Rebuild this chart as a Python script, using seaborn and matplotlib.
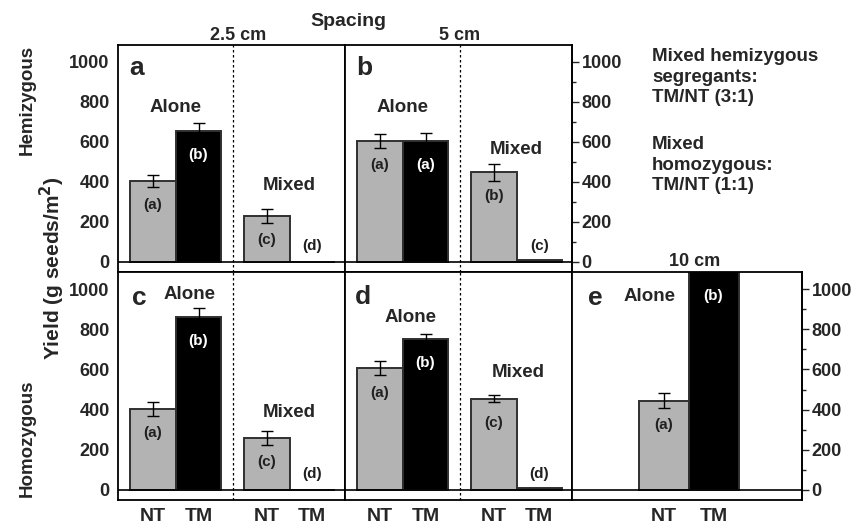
import pandas as pd
import matplotlib.pyplot as plt
from matplotlib.ticker import MultipleLocator
import seaborn as sb

# yields (g seeds/m2), order: NT alone, TM alone, NT mixed, TM mixed
hemi_25 = [405, 655, 230, 0]
hemi_25_err = [30, 40, 33, 0]
hemi_25_lab = ['(a)', '(b)', '(c)', '(d)']

hemi_5 = [605, 605, 448, 8]
hemi_5_err = [35, 40, 42, 0]
hemi_5_lab = ['(a)', '(a)', '(b)', '(c)']

homo_25 = [405, 860, 258, 0]
homo_25_err = [35, 45, 35, 0]
homo_25_lab = ['(a)', '(b)', '(c)', '(d)']

homo_5 = [605, 750, 455, 10]
homo_5_err = [35, 25, 17, 0]
homo_5_lab = ['(a)', '(b)', '(c)', '(d)']

# 10 cm: only grown alone
homo_10 = [445, 1100]
homo_10_err = [37, 0]
homo_10_lab = ['(a)', '(b)']

genotypes = ['NT', 'TM', 'NT', 'TM']
positions = [0, 1, 2.5, 3.5]

sb.set_style('white')
plt.rcParams['font.family'] = ['Liberation Sans', 'DejaVu Sans']
plt.rcParams['font.weight'] = 'bold'
plt.rcParams['axes.linewidth'] = 1.3

colors = {'NT': '#b3b3b3', 'TM': 'black'}
FS = 13.5

fig = plt.figure(figsize=(8.55, 5.31), dpi=100)


def rect(l, t, r, b):
    return [l / 855, 1 - b / 531, (r - l) / 855, (b - t) / 531]


def panel(box, vals, errs, labs, pos, gen, xlim, dashed=True):
    ax = fig.add_axes(box)
    df = pd.DataFrame({'pos': pos, 'Yield': vals, 'Genotype': gen})
    sb.barplot(data=df, x='pos', y='Yield', hue='Genotype', palette=colors,
               native_scale=True, dodge=False, width=1.0, errorbar=None,
               edgecolor='#303030', linewidth=1.4, legend=False, ax=ax)
    keep = [i for i, e in enumerate(errs) if e > 0]
    ax.errorbar([pos[i] for i in keep], [vals[i] for i in keep],
                yerr=[errs[i] for i in keep], fmt='none', ecolor='black',
                elinewidth=1, capsize=4, capthick=1)
    ax.axhline(0, color='black', lw=1.2)
    if dashed:
        ax.axvline(1.75, color='black', lw=0.9, ls=(0, (2, 2)))
    for x, v, l, g in zip(pos, vals, labs, gen):
        yl = min(v, 1085) - 120 if v > 150 else 80
        c = 'white' if (g == 'TM' and v > 150) else '#202020'
        ax.text(x, yl, l, ha='center', va='center', fontsize=11,
                color=c, fontweight='bold')
    ax.set_xlim(*xlim)
    ax.set_ylim(-50, 1085)
    ax.set_xticks(pos)
    ax.set_xticklabels(gen, fontsize=14, fontweight='bold')
    ax.tick_params(axis='x', length=0, pad=6)
    ax.yaxis.set_major_locator(MultipleLocator(200))
    ax.yaxis.set_minor_locator(MultipleLocator(100))
    ax.set_xlabel('')
    ax.set_ylabel('')
    for s in ax.spines.values():
        s.set_color('black')
    return ax


xl = (-0.77, 4.22)
ax_a = panel(rect(118, 45, 345, 272), hemi_25, hemi_25_err, hemi_25_lab, positions, genotypes, xl)
ax_b = panel(rect(345, 45, 572, 272), hemi_5, hemi_5_err, hemi_5_lab, positions, genotypes, xl)
ax_c = panel(rect(118, 272, 345, 500), homo_25, homo_25_err, homo_25_lab, positions, genotypes, xl)
ax_d = panel(rect(345, 272, 572, 500), homo_5, homo_5_err, homo_5_lab, positions, genotypes, xl)
ax_e = panel(rect(572, 272, 802, 500), homo_10, homo_10_err, homo_10_lab, [0, 1], ['NT', 'TM'],
             (-1.83, 2.77), dashed=False)

# tick styles
for ax in (ax_a, ax_c):
    ax.tick_params(axis='y', which='major', direction='out', length=4, width=1,
                   labelsize=13, pad=2)
    ax.tick_params(axis='y', which='minor', direction='out', length=2.5, width=1)
for ax in (ax_b, ax_d, ax_e):
    ax.tick_params(axis='y', which='major', direction='inout', length=12, width=1,
                   labelleft=False)
    ax.tick_params(axis='y', which='minor', direction='inout', length=6, width=1)
for ax in (ax_b, ax_e):
    sec = ax.secondary_yaxis('right')
    sec.yaxis.set_major_locator(MultipleLocator(200))
    sec.yaxis.set_minor_locator(MultipleLocator(100))
    sec.tick_params(which='major', direction='out', length=5, width=1, labelsize=13, pad=2)
    sec.tick_params(which='minor', direction='out', length=3, width=1)
    for t in sec.get_yticklabels():
        t.set_fontweight('bold')
for ax in (ax_a, ax_b, ax_c, ax_d, ax_e):
    for t in ax.get_yticklabels():
        t.set_fontweight('bold')
for ax in (ax_a, ax_b):
    ax.set_xticklabels([])

# panel letters
ax_a.text(0.05, 0.90, 'a', transform=ax_a.transAxes, fontsize=19, va='center')
ax_b.text(0.05, 0.90, 'b', transform=ax_b.transAxes, fontsize=19, va='center')
ax_c.text(0.06, 0.885, 'c', transform=ax_c.transAxes, fontsize=19, va='center')
ax_d.text(0.045, 0.89, 'd', transform=ax_d.transAxes, fontsize=19, va='center')
ax_e.text(0.07, 0.885, 'e', transform=ax_e.transAxes, fontsize=19, va='center')

# Alone / Mixed
ax_a.text(0.5, 775, 'Alone', ha='center', va='center', fontsize=FS)
ax_a.text(3.0, 385, 'Mixed', ha='center', va='center', fontsize=FS)
ax_b.text(0.5, 775, 'Alone', ha='center', va='center', fontsize=FS)
ax_b.text(3.0, 560, 'Mixed', ha='center', va='center', fontsize=FS)
ax_c.text(0.8, 975, 'Alone', ha='center', va='center', fontsize=FS)
ax_c.text(3.0, 385, 'Mixed', ha='center', va='center', fontsize=FS)
ax_d.text(0.66, 860, 'Alone', ha='center', va='center', fontsize=FS)
ax_d.text(3.03, 585, 'Mixed', ha='center', va='center', fontsize=FS)
ax_e.text(-0.27, 965, 'Alone', ha='center', va='center', fontsize=FS)

# headers
fig.text(348 / 855, 1 - 22 / 531, 'Spacing', ha='center', va='center', fontsize=14)
fig.text(238 / 855, 1 - 36 / 531, '2.5 cm', ha='center', va='center', fontsize=13)
fig.text(460 / 855, 1 - 36 / 531, '5 cm', ha='center', va='center', fontsize=13)
fig.text(695 / 855, 1 - 262 / 531, '10 cm', ha='center', va='center', fontsize=13)

fig.text(652 / 855, 1 - 77 / 531, 'Mixed hemizygous\nsegregants:\nTM/NT (3:1)',
         ha='left', va='center', fontsize=FS, linespacing=1.25)
fig.text(652 / 855, 1 - 165 / 531, 'Mixed\nhomozygous:\nTM/NT (1:1)',
         ha='left', va='center', fontsize=FS, linespacing=1.25)

fig.text(27 / 855, 1 - 100 / 531, 'Hemizygous', rotation=90, ha='center', va='center', fontsize=FS)
fig.text(27 / 855, 1 - 438 / 531, 'Homozygous', rotation=90, ha='center', va='center', fontsize=FS)
fig.text(52 / 855, 1 - 268 / 531, 'Yield (g seeds/m$\\mathbf{^2}$)', rotation=90,
         ha='center', va='center', fontsize=15)

plt.savefig('out.png', dpi=100)
